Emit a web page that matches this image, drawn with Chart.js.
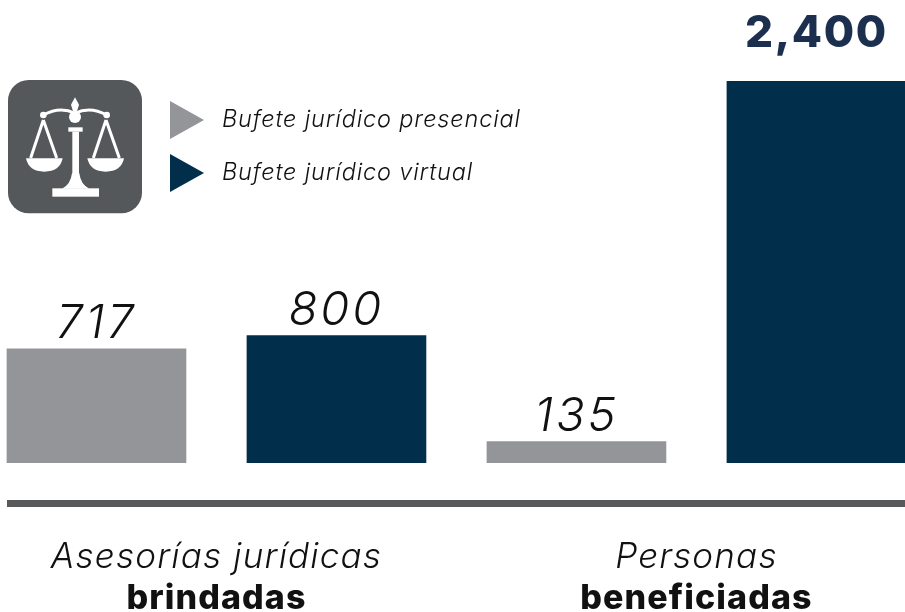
<!DOCTYPE html>
<html lang="es">
<head>
  <meta charset="UTF-8">
  <title>Bufete jurídico</title>
  <script src="https://cdn.jsdelivr.net/npm/chart.js"></script>
  <style>
    html, body { margin: 0; padding: 0; background: #fff; overflow: hidden; }
    #wrap { position: relative; width: 905px; height: 612px; font-family: Inter, sans-serif; }
    #chart { position: absolute; left: 0; top: 0; }
    #icon { position: absolute; left: 0; top: 70px; }
    .leg { position: absolute; left: 170px; height: 38px; }
    .leg i {
      position: absolute; left: 0; top: 0; width: 34px; height: 38px;
      clip-path: polygon(0 0, 100% 50%, 0 100%);
    }
    .leg span {
      position: absolute; left: 52px; top: 3px; white-space: nowrap;
      font-size: 23.5px; font-style: italic; font-weight: 300; color: #111; line-height: 30px;
      letter-spacing: 0.85px;
    }
  </style>
</head>
<body>
<div id="wrap">
  <canvas id="chart" width="905" height="612"></canvas>
  <svg id="icon" width="220" height="150" viewBox="0 0 660 450">
    <rect x="24" y="30" width="402" height="400" rx="62" fill="#55585a"/>
    <g fill="#fff">
      <rect x="157" y="355" width="140" height="25"/>
      <path d="M186 356 Q212 344 216 310 H238 Q242 344 268 356 Z"/>
      <rect x="217" y="185" width="20" height="130"/>
      <rect x="205" y="172" width="43" height="13"/>
      <circle cx="225" cy="141" r="18"/>
      <path d="M225 82 L237 104 L231 124 H219 L213 104 Z"/>
      <circle cx="130" cy="135" r="10"/>
      <circle cx="320" cy="135" r="10"/>
      <path d="M78 265 H188 Q180 305 133 305 Q86 305 78 265 Z"/>
      <path d="M262 265 H372 Q364 305 317 305 Q270 305 262 265 Z"/>
    </g>
    <g fill="none" stroke="#fff">
      <path d="M130 135 Q180 108 225 130 Q270 108 320 135" stroke-width="9"/>
      <path d="M130 150 L92 264 M130 150 L170 264 M318 150 L280 264 M318 150 L358 264" stroke-width="9"/>
    </g>
  </svg>
  <div class="leg" style="top:101px"><i style="background:#939598"></i><span>Bufete jurídico presencial</span></div>
  <div class="leg" style="top:154px"><i style="background:#012f4b"></i><span>Bufete jurídico virtual</span></div>
</div>
<script>
  const positions = [0, 1, 2, 3];
  const values = [717, 800, 135, 2400];
  const barColors = ['#939598', '#012f4b', '#939598', '#012f4b'];
  const groupLabels = [
    ['Asesorías jurídicas', 'brindadas'],
    ['Personas', 'beneficiadas']
  ];

  // valores, grupos y linea base se dibujan sobre las escalas del grafico
  const labelsPlugin = {
    id: 'labelsPlugin',
    afterDatasetsDraw(chart) {
      const ctx = chart.ctx;
      const x = chart.scales.x;
      const y = chart.scales.y;
      ctx.save();
      ctx.textAlign = 'center';
      ctx.textBaseline = 'alphabetic';

      values.forEach((v, i) => {
        const big = v === Math.max(...values);
        ctx.font = big ? '800 44px Inter, sans-serif' : 'italic 300 47px Inter, sans-serif';
        ctx.letterSpacing = big ? '1.6px' : '3px';
        ctx.fillStyle = big ? '#1c2f4f' : '#111';
        ctx.fillText(v.toLocaleString('en-US'), x.getPixelForValue(positions[i]), y.getPixelForValue(v) - (big ? 34 : 11));
      });

      ctx.fillStyle = '#58595b';
      ctx.fillRect(7, 500, 898, 7);

      ctx.fillStyle = '#111';
      groupLabels.forEach((lines, g) => {
        const cx = x.getPixelForValue(g * 2 + 0.5);
        ctx.letterSpacing = '1.2px';
        ctx.font = 'italic 300 35px Inter, sans-serif';
        ctx.fillText(lines[0], cx, 568);
        ctx.letterSpacing = '1.1px';
        ctx.font = '800 34px Inter, sans-serif';
        ctx.fillText(lines[1], cx, 609);
      });
      ctx.restore();
    }
  };

  new Chart(document.getElementById('chart'), {
    type: 'bar',
    data: {
      datasets: [{
        data: positions.map((p, i) => ({ x: p, y: values[i] })),
        backgroundColor: barColors,
        barThickness: 179,
        borderWidth: 0
      }]
    },
    options: {
      responsive: false,
      animation: false,
      layout: { padding: { top: 81, bottom: 149, left: 0, right: 0 } },
      scales: {
        x: { type: 'linear', min: -0.402, max: 3.369, offset: false, display: false },
        y: { min: 0, max: 2400, display: false }
      },
      plugins: { legend: { display: false }, tooltip: { enabled: false } }
    },
    plugins: [labelsPlugin]
  });
</script>
</body>
</html>
